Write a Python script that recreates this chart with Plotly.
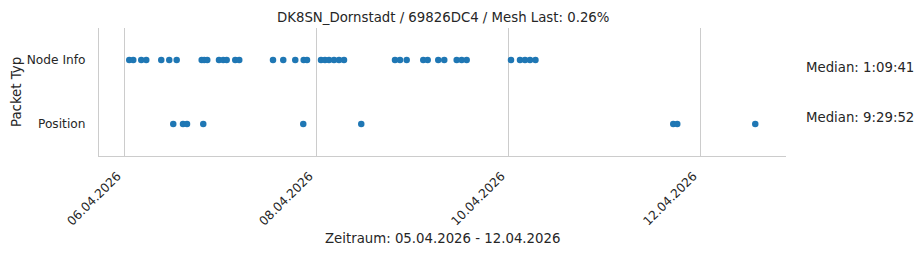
import plotly.graph_objects as go

title = "DK8SN_Dornstadt / 69826DC4 / Mesh Last: 0.26%"
categories = ["Node Info", "Position"]

node_info_times = [
    "2026-04-06 01:13", "2026-04-06 02:13", "2026-04-06 04:13", "2026-04-06 05:28",
    "2026-04-06 09:13", "2026-04-06 11:13", "2026-04-06 13:04", "2026-04-06 19:19",
    "2026-04-06 19:58", "2026-04-06 20:43", "2026-04-06 23:39", "2026-04-07 00:43",
    "2026-04-07 01:34", "2026-04-07 03:43", "2026-04-07 04:43", "2026-04-07 13:09",
    "2026-04-07 15:43", "2026-04-07 18:43", "2026-04-07 20:49", "2026-04-07 21:39",
    "2026-04-08 01:09", "2026-04-08 02:09", "2026-04-08 03:09", "2026-04-08 04:24",
    "2026-04-08 05:39", "2026-04-08 06:54", "2026-04-08 19:39", "2026-04-08 20:54",
    "2026-04-08 22:34", "2026-04-09 02:43", "2026-04-09 03:49", "2026-04-09 06:28",
    "2026-04-09 07:58", "2026-04-09 11:04", "2026-04-09 12:19", "2026-04-09 13:34",
    "2026-04-10 00:39", "2026-04-10 02:54", "2026-04-10 04:09", "2026-04-10 05:24",
    "2026-04-10 06:46",
]
position_times = [
    "2026-04-06 12:13", "2026-04-06 14:39", "2026-04-06 15:39", "2026-04-06 19:43",
    "2026-04-07 20:43", "2026-04-08 11:13", "2026-04-11 17:13", "2026-04-11 18:13",
    "2026-04-12 13:43",
]
medians = ["Median: 1:09:41", "Median: 9:29:52"]

tick_dates = ["2026-04-06", "2026-04-08", "2026-04-10", "2026-04-12"]
tick_labels = ["06.04.2026", "08.04.2026", "10.04.2026", "12.04.2026"]
x_range = ["2026-04-05 17:39", "2026-04-12 21:24"]
x_title = "Zeitraum: 05.04.2026 - 12.04.2026"
y_title = "Packet Typ"

W, H = 923, 255
L, R, T, B = 99, 137, 28, 99
FONT = "DejaVu Sans"
TXT = "#262626"
GRID = "#cccccc"
BLUE = "#1f77b4"

fig = go.Figure()
for times, cat in [(node_info_times, 0), (position_times, 1)]:
    fig.add_trace(go.Scatter(
        x=times, y=[cat] * len(times), mode="markers",
        marker=dict(color=BLUE, size=6.5, line=dict(width=0)),
        showlegend=False, hoverinfo="x",
    ))

pw = W - L - R
ph = H - T - B


def px(x):
    return (x - L) / pw


def py(y):
    return 1 - (y - T) / ph


annotations = [
    dict(text=medians[0], x=px(804), y=py(67), xref="paper", yref="paper",
         xanchor="left", yanchor="middle", showarrow=False,
         font=dict(family=FONT, size=13.3, color=TXT)),
    dict(text=medians[1], x=px(804), y=py(117), xref="paper", yref="paper",
         xanchor="left", yanchor="middle", showarrow=False,
         font=dict(family=FONT, size=13.3, color=TXT)),
    dict(text=title, x=px(442.5), y=py(17), xref="paper", yref="paper",
         xanchor="center", yanchor="middle", showarrow=False,
         font=dict(family=FONT, size=13.3, color=TXT)),
    dict(text=x_title, x=px(442.5), y=py(238), xref="paper", yref="paper",
         xanchor="center", yanchor="middle", showarrow=False,
         font=dict(family=FONT, size=13.3, color=TXT)),
    dict(text=y_title, x=px(16), y=py(92), xref="paper", yref="paper",
         xanchor="center", yanchor="middle", showarrow=False, textangle=-90,
         font=dict(family=FONT, size=13.3, color=TXT)),
]

fig.update_layout(
    width=W, height=H,
    margin=dict(l=L, r=R, t=T, b=B, pad=0),
    paper_bgcolor="white", plot_bgcolor="white",
    font=dict(family=FONT, size=12.2, color=TXT),
    annotations=annotations,
    xaxis=dict(
        type="date", range=x_range,
        tickvals=tick_dates, ticktext=tick_labels, tickangle=-45,
        showgrid=True, gridcolor=GRID, gridwidth=1,
        showline=True, linecolor=GRID, linewidth=1.2,
        zeroline=False, ticks="", ticklabelstandoff=7, ticklabelshift=-7,
        tickfont=dict(family=FONT, size=12.2, color=TXT),
    ),
    yaxis=dict(
        range=[1.5, -0.5], tickvals=[0, 1], ticktext=categories,
        showgrid=False, showline=True, linecolor=GRID, linewidth=1.2,
        zeroline=False, ticks="", ticklabelstandoff=10,
        tickfont=dict(family=FONT, size=12.2, color=TXT),
    ),
)

fig.write_html("out.html")
